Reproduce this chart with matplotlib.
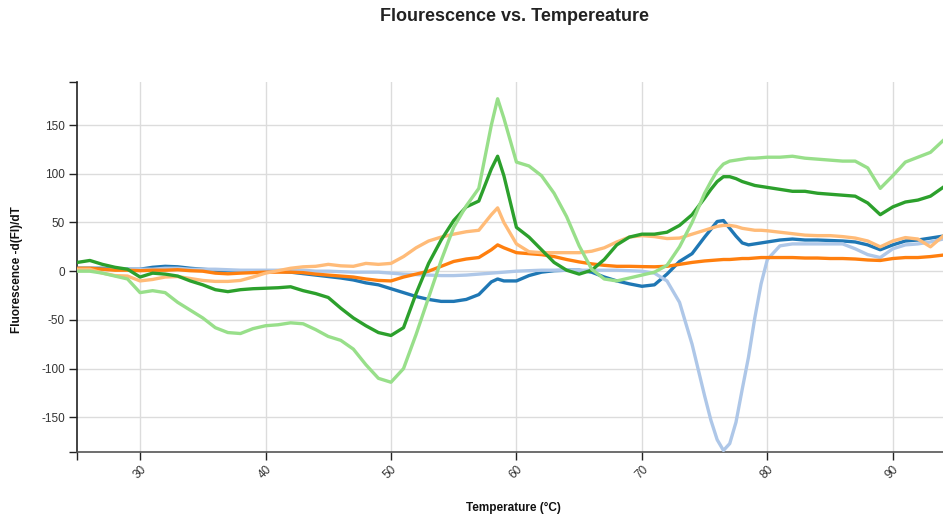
import matplotlib
matplotlib.use('Agg')
import matplotlib.pyplot as plt

plt.rcParams['font.family'] = ['Liberation Sans', 'DejaVu Sans']

# temperatures (°C)
temps = [25, 26, 27, 28, 29, 30, 31, 32, 33, 34, 35, 36, 37, 38, 39, 40, 41, 42, 43, 44,
         45, 46, 47, 48, 49, 50, 51, 52, 53, 54, 55, 56, 57, 58, 58.5, 59, 60, 61, 62, 63,
         64, 65, 66, 67, 68, 69, 70, 71, 72, 73, 74, 75, 75.5, 76, 76.5, 77, 77.5, 78, 78.5, 79,
         79.5, 80, 81, 82, 83, 84, 85, 86, 87, 88, 89, 90, 91, 92, 93, 94]

# -d(FI)/dT per sample
s_blue = [3, 3, 3, 2, 2, 2, 4, 5, 4.5, 3, 2, 1, 0.5, 0, 0, 0, 0, -1, -2.5, -4,
          -5.5, -7, -9, -12, -14, -18, -22, -26, -29, -31, -31, -29, -24, -11, -8, -10, -10, -4.5, -1, 0.5,
          1, 1, -1, -6, -10, -13, -15.5, -14, -3, 10, 18, 35, 43, 51, 52, 44, 36, 29, 27, 28,
          29, 30, 32, 33, 32, 32, 31.5, 31, 30, 27, 22, 27, 31, 32, 34, 36]
s_lightblue = [1, 1, 2, 2, 2, 2, 2, 3, 3, 2, 2, 2, 1.5, 1, 1, 1, 1, 1, 1, 0,
               0, -0.5, -1, -1, -1, -2, -3, -3.5, -4, -4.5, -4.5, -4, -3, -2, -1.5, -1, 0, 0.5, 1, 1,
               1, 1, 1, 1, 1, 0.5, 0, -2, -10, -32, -75, -128, -153, -173, -184, -177, -155, -121, -88, -48,
               -13, 12, 26, 28, 28, 28, 28, 28, 23, 17, 14, 23, 27, 28, 30, 33]
s_orange = [3, 3, 2, 1, 1, 0.5, 1, 1, 1.5, 0.5, 0, -2, -2.7, -2, -1.5, -1, -1, -1, -1.5, -3,
            -4, -5, -6, -8, -9.5, -10, -6, -3, 0, 5, 10, 12.5, 14, 22, 27, 24, 19, 18, 17, 15,
            12, 9.5, 7.5, 6, 5, 5, 4.7, 4.5, 5, 7, 9, 10.5, 11, 11.5, 12, 12, 12.5, 13, 13, 13.5,
            14, 14, 14, 14, 13.5, 13.5, 13, 13, 12.5, 11.5, 11, 13, 14, 14, 15, 16.5]
s_lightorange = [2, 2, -2, -4.5, -5, -10, -8.5, -6, -5.5, -7.5, -9.5, -10.5, -10.5, -9.5, -6, -2, 0.5, 3, 4.5, 5,
                 7, 5.5, 5, 8, 7, 8, 15, 24, 31, 35, 38, 40.5, 42, 58, 65, 50, 28, 20, 19, 19,
                 19, 19, 20.5, 24, 30, 35, 36.5, 35.5, 33.5, 34, 38, 42, 44, 46, 47, 47, 46, 44, 43, 42,
                 42, 41.5, 40, 38.5, 37, 36.5, 36.5, 35.5, 34, 31, 25, 31, 34.5, 33, 25, 36]
s_green = [9, 11, 7, 4, 2, -6, -2, -3, -5, -10, -14, -19, -21, -19, -18, -17.5, -17, -16, -20, -23,
           -27, -38, -48, -56, -63, -66, -58, -23, 8, 32, 52, 66, 72, 105, 118, 98, 45, 35, 22, 9,
           1, -3, 1, 12, 27, 35, 38, 38, 40, 47, 58, 75, 84, 92, 97, 97, 95, 92, 90, 88,
           87, 86, 84, 82, 82, 80, 79, 78, 77, 70, 58, 66, 71, 73, 77, 86]
s_lightgreen = [0, 0, -2, -5, -8, -22, -20, -22, -32, -40, -48, -58, -63, -64, -59, -56, -55, -53, -54, -60,
                -67, -71, -80, -96, -110, -114, -100, -65, -27, 11, 45, 67, 85, 150, 177, 157, 112, 108, 98, 80,
                56, 26, 2, -8, -10, -7, -4, -1, 6, 25, 50, 80, 92, 103, 110, 113, 114, 115, 116, 116,
                116.5, 117, 117, 118, 116, 115, 114, 113, 113, 106, 85, 98, 112, 117, 122, 134]

series = [s_blue, s_lightblue, s_orange, s_lightorange, s_green, s_lightgreen]
colors = ['#1f77b4', '#aec7e8', '#ff7f0e', '#ffbb78', '#2ca02c', '#98df8a']

x_ticks = [30, 40, 50, 60, 70, 80, 90]
y_ticks = [-150, -100, -50, 0, 50, 100, 150]
x_min, x_max = 25, 94
y_min, y_max = -186, 194

fig = plt.figure(figsize=(9.43, 5.17), dpi=100)
ax = fig.add_axes([0.082, 0.125, 0.918, 0.716])

for vals, c in zip(series, colors):
    ax.plot(temps, vals, color=c, lw=2.4, solid_joinstyle='round', zorder=3)

ax.set_xlim(x_min, x_max)
ax.set_ylim(y_min, y_max)
ax.set_xticks(x_ticks)
ax.set_yticks(y_ticks)
ax.set_xticklabels([str(t) for t in x_ticks], rotation=45, ha='right', rotation_mode='anchor')
ax.set_yticklabels([str(t) for t in y_ticks])
# outer ticks at the domain ends, like d3
ax.set_xticks([x_min], minor=True)
ax.set_yticks([y_min, y_max], minor=True)

ax.grid(True, color='#dcdcdc', lw=1, zorder=0)
ax.tick_params(axis='both', which='both', direction='out', length=6, width=1, color='#222',
               labelsize=8.5, labelcolor='#333', pad=3)
ax.tick_params(axis='x', pad=2)
for s in ['top', 'right']:
    ax.spines[s].set_visible(False)
ax.spines['left'].set_color('#222')
ax.spines['bottom'].set_color('#555')
ax.spines['left'].set_linewidth(1.2)
ax.spines['bottom'].set_linewidth(1.2)

fig.text(0.546, 0.969, 'Flourescence vs. Tempereature', ha='center', va='center',
         fontsize=13, fontweight='bold', color='#222')
fig.text(0.545, 0.017, 'Temperature (°C)', ha='center', va='center',
         fontsize=8.5, fontweight='bold', color='#111')
fig.text(0.018, 0.478, 'Fluorescence -d(FI)/dT', ha='center', va='center', rotation=90,
         fontsize=8.5, fontweight='bold', color='#111')

fig.savefig('out.png', dpi=100)
